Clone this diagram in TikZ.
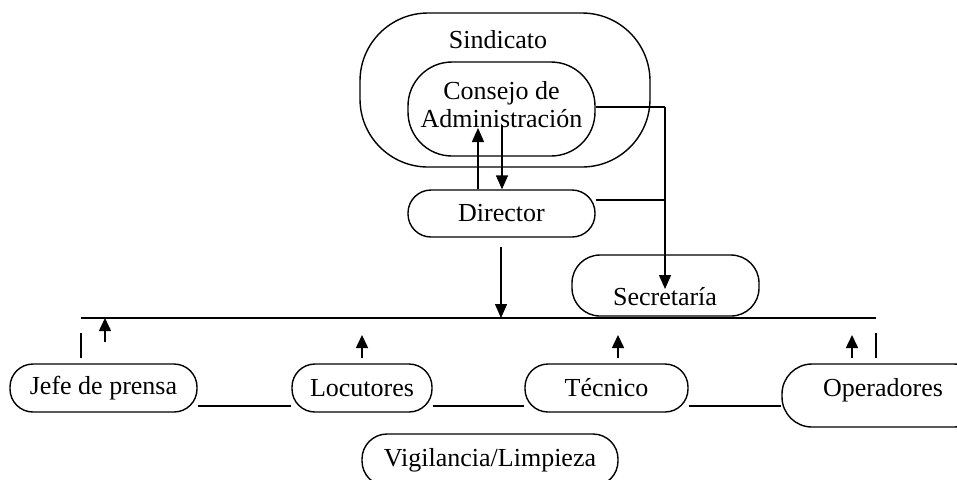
\documentclass[tikz,border=0pt]{standalone}
\usepackage{fontspec}
\setmainfont{Liberation Serif}
\usetikzlibrary{arrows.meta}
\begin{document}
\begin{tikzpicture}[x=0.5pt,y=-0.5pt,
  box/.style={draw,line width=0.7pt,rounded corners=11.5pt,inner sep=0pt,
    minimum height=24pt,font=\fontsize{13}{14}\selectfont},
  txt/.style={inner sep=0pt,font=\fontsize{13}{14}\selectfont},
  conn/.style={line width=0.7pt},
  arr/.style={line width=0.7pt,-{Triangle[width=6pt,length=7pt]}},
  sarr/.style={line width=0.8pt,-{Triangle[width=6pt,length=6.5pt]}},
  bus/.style={line width=1pt}]
\useasboundingbox (0,0) rectangle (957,479);
\begin{scope}
\clip (0,0) rectangle (957,479);
% top group
\node[box,rounded corners=34pt,minimum width=145pt,minimum height=77pt] (sind) at (505,90) {};
\node[txt] (sindt) at (498,40) {Sindicato};
\node[box,rounded corners=22pt,minimum width=93.5pt,minimum height=47pt] (cons) at (501.5,109) {};
\node[txt,align=center] (const) at (501.5,105) {Consejo de\\Administración};
\node[box,minimum width=93.5pt,minimum height=23.5pt] (dir) at (501.5,213.5) {Director};
\node[box,rounded corners=14pt,minimum width=93.5pt,minimum height=30.5pt] (sec) at (665.5,285.5) {};
\node[txt] (sect) at (665,297) {Secretaría};
% bottom nodes
\node[box,minimum width=93.5pt] (jefe) at (103.5,388) {Jefe de prensa};
\node[box,minimum width=70pt] (loc) at (362,388) {Locutores};
\node[box,minimum width=81.5pt] (tec) at (606.5,388) {Técnico};
\node[box,rounded corners=15pt,minimum width=101pt,minimum height=31.5pt] (ope) at (883,395.5) {};
\node[txt] (opet) at (883,390) {Operadores};
\node[box,rounded corners=12.5pt,minimum width=128pt,minimum height=26pt] (vig) at (490,460) {Vigilancia/Limpieza};
% coordinates
\coordinate (upt) at (478,128);
\coordinate (dnt) at (502,125);
\coordinate (ctr) at (665,107);
\coordinate (stip) at (665,289);
\coordinate (dj) at (665,200);
\coordinate (dst) at (501,247);
\coordinate (busl) at (81,318);
\coordinate (busr) at (876,318);
\coordinate (ja) at (105,342);
\coordinate (la) at (362,358);
\coordinate (ta) at (618,358);
\coordinate (oa) at (852,358);
\coordinate (tl) at (81,333);
\coordinate (tr) at (876,333);
% connectors
\draw[arr] (dir.north -| upt) -- (upt);
\draw[arr] (dnt) -- (dir.north -| dnt);
\draw[conn] (cons.east |- ctr) -- (ctr);
\draw[arr] (ctr) -- (stip);
\draw[conn] (dir.east |- dj) -- (dj);
\draw[arr] (dst) -- (dst |- busl);
\draw[bus] (busl) -- (busr);
\draw[conn] (tl) -- ++(0,25);
\draw[conn] (tr) -- ++(0,25);
\draw[sarr] (ja) -- (ja |- busl);
\draw[sarr] (la) -- ++(0,-23);
\draw[sarr] (ta) -- ++(0,-23);
\draw[sarr] (oa) -- ++(0,-23);
\draw[conn] (jefe.east |- 0,406) -- (loc.west |- 0,406);
\draw[conn] (loc.east |- 0,406) -- (tec.west |- 0,406);
\draw[conn] (tec.east |- 0,406) -- (ope.west |- 0,406);
\end{scope}
\end{tikzpicture}
\end{document}
